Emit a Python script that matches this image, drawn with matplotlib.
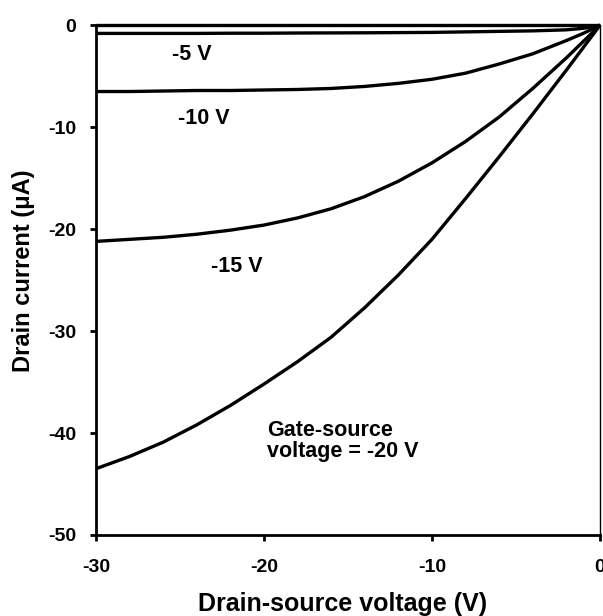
import numpy as np
import matplotlib
matplotlib.use('Agg')
import matplotlib.pyplot as plt

# ── Data (drain-source voltage in V, drain current in uA) ──
vds = [-30, -28, -26, -24, -22, -20, -18, -16, -14, -12, -10, -8, -6, -4, -2, -1, 0]

id_0v   = [0.0] * len(vds)
id_5v   = [-0.8, -0.8, -0.8, -0.8, -0.78, -0.78, -0.76, -0.75, -0.74, -0.72,
           -0.7, -0.65, -0.6, -0.55, -0.45, -0.3, 0.0]
id_10v  = [-6.5, -6.5, -6.45, -6.4, -6.4, -6.35, -6.3, -6.2, -6.0, -5.7,
           -5.3, -4.7, -3.8, -2.8, -1.5, -0.8, 0.0]
id_15v  = [-21.2, -21.0, -20.8, -20.5, -20.1, -19.6, -18.9, -18.0, -16.8, -15.3,
           -13.5, -11.4, -9.0, -6.2, -3.2, -1.6, 0.0]
id_20v  = [-43.5, -42.3, -40.9, -39.2, -37.3, -35.2, -33.0, -30.6, -27.7, -24.5,
           -21.0, -17.0, -12.9, -8.7, -4.4, -2.2, 0.0]

x_ticks = [-30, -20, -10, 0]
y_ticks = [-50, -40, -30, -20, -10, 0]

labels = ['-5 V', '-10 V', '-15 V', 'Gate-source\nvoltage = -20 V']
label_pos = [(-24.3, -2.9), (-23.6, -9.1), (-21.6, -23.7), (-19.8, -40.8)]

# ── Figure ──────────────────────────────────────────────────────────────
plt.rcParams['font.family'] = ['Liberation Sans', 'DejaVu Sans']
plt.rcParams['font.weight'] = 'bold'
plt.rcParams['axes.unicode_minus'] = False

fig = plt.figure(figsize=(6.03, 6.16), dpi=100)
ax = fig.add_axes([0.159, 0.1315, 0.836, 0.8275])

for curve in [id_0v, id_5v, id_10v, id_15v, id_20v]:
    ax.plot(vds, curve, color='black', linewidth=2.4, clip_on=False,
            solid_capstyle='butt')

for text, (x, y) in zip(labels, label_pos):
    ha = 'left' if '\n' in text else 'center'
    ax.text(x, y, text, ha=ha, va='center', fontsize=15.5, fontweight='bold',
            linespacing=1.0)

ax.set_xlim(-30, 0)
ax.set_ylim(-50, 0)
ax.set_xticks(x_ticks)
ax.set_yticks(y_ticks)

ax.spines['top'].set_visible(False)
ax.spines['left'].set_linewidth(2.0)
ax.spines['bottom'].set_linewidth(2.0)
ax.spines['right'].set_linewidth(1.0)

ax.tick_params(axis='both', direction='out', length=4, width=2,
               labelsize=14)
ax.tick_params(axis='x', pad=13)
ax.tick_params(axis='y', pad=10)

ax.set_xlabel('Drain-source voltage (V)', fontsize=18, fontweight='bold')
ax.set_ylabel('Drain current (μA)', fontsize=17, fontweight='bold')
ax.xaxis.set_label_coords(0.49, -0.135)
ax.xaxis.label.set_va('center')
ax.yaxis.set_label_coords(-0.143, 0.518)
ax.yaxis.label.set_va('center')

fig.savefig('out.png', dpi=100)
